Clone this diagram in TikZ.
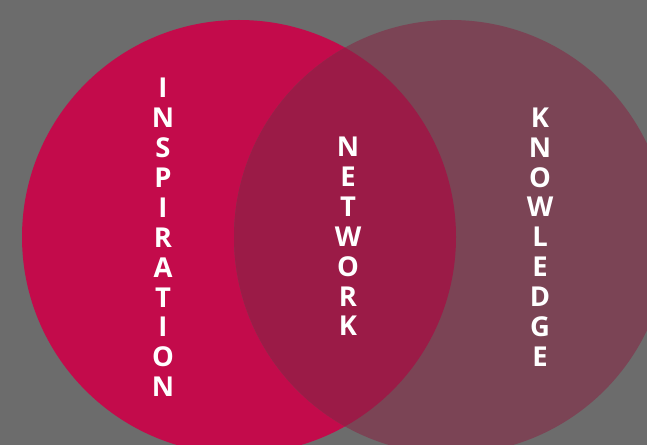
\documentclass[tikz,border=0pt]{standalone}
\usepackage{fontspec}
\setmainfont{Open Sans}
\definecolor{bg}{HTML}{6C6C6C}
\definecolor{leftc}{HTML}{C30B4B}
\definecolor{rightc}{HTML}{7B4455}
\definecolor{overc}{HTML}{9B1B47}
\tikzset{
  word/.style={text=white, font=\bfseries\fontsize{27.5}{30}\selectfont, align=center, inner sep=0pt},
}
\begin{document}
\begin{tikzpicture}[x=1bp,y=-1bp]
  \fill[bg] (0,0) rectangle (647,445);
  \useasboundingbox (0,0) rectangle (647,445);
  \begin{scope}
    \clip (0,0) rectangle (647,445);
    \fill[leftc] (239,237) circle[radius=217];
    \fill[rightc] (451,237) circle[radius=217];
    \begin{scope}
      \clip (239,237) circle[radius=217];
      \fill[overc] (451,237) circle[radius=217];
    \end{scope}
  \end{scope}
  \node[word] (insp) at (163,237.5) {I\\N\\S\\P\\I\\R\\A\\T\\I\\O\\N};
  \node[word] (net) at (348,236.5) {N\\E\\T\\W\\O\\R\\K};
  \node[word] (know) at (540,237) {K\\N\\O\\W\\L\\E\\D\\G\\E};
\end{tikzpicture}
\end{document}
